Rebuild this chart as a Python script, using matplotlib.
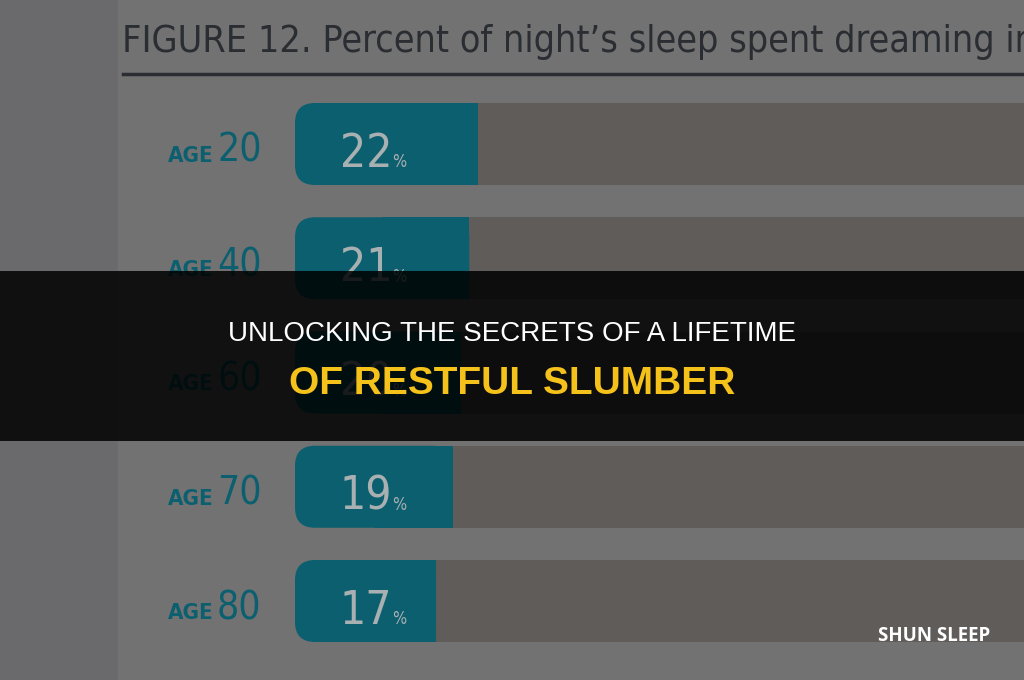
"""Percent of night's sleep spent dreaming in REM, by age (darkened card with banner)."""
import matplotlib
matplotlib.use("Agg")
import matplotlib.pyplot as plt
from matplotlib import font_manager
from matplotlib.patches import FancyBboxPatch, Rectangle

AGES = ["20", "40", "60", "70", "80"]
REM_PCT = [22, 21, 20, 19, 17]
FULL_PCT = 100
TITLE = "FIGURE 12. Percent of night\u2019s sleep spent dreaming in REM"
HEADLINE_1 = "UNLOCKING THE SECRETS OF A LIFETIME"
HEADLINE_2 = "OF RESTFUL SLUMBER"
BRAND = "SHUN SLEEP"

PAGE = "#727273"
STRIP = "#6a6a6c"
TEAL = "#0c5f6f"
TRACK = "#5f5c5a"
INK = "#2a2d31"
PCT_INK = "#a9b0b2"

# pick a narrow face if one is installed
_names = {f.name for f in font_manager.fontManager.ttflist}
_cond = [(f.name, f.stretch) for f in font_manager.fontManager.ttflist
         if f.stretch in ("condensed", "semi-condensed")]
if "Liberation Sans Narrow" in _names:
    NARROW = dict(family=["Liberation Sans Narrow", "DejaVu Sans"])
elif any(n == "DejaVu Sans" for n, _ in _cond):
    NARROW = dict(family=["DejaVu Sans"], stretch="condensed")
else:
    NARROW = dict(family=["DejaVu Sans"])

W, H = 1024, 680
fig = plt.figure(figsize=(W / 100, H / 100), dpi=100)
fig.patch.set_facecolor(PAGE)
fig.add_artist(Rectangle((0, 0), 118 / W, 1, transform=fig.transFigure,
                         facecolor=STRIP, edgecolor="none", zorder=0))

# bar axes: x=0 at 295 px, 8.3 px per percent; rows ~114 px apart from y=144
px_per_pct = 8.3
row_px, top_px = 114.25, 144
ax = fig.add_axes([295 / W, 0, 1 - 295 / W, 1])
ax.set_xlim(0, (W - 295) / px_per_pct)
ax.set_ylim((H - top_px) / row_px, -top_px / row_px)
ax.axis("off")
ax.patch.set_alpha(0)

ys = list(range(len(AGES)))
bh = 82 / row_px
r_x = 20 / px_per_pct
aspect = (20 / row_px) / r_x
ax.barh(ys, [FULL_PCT - v / 2 for v in REM_PCT], left=[v / 2 for v in REM_PCT],
        height=bh, color=TRACK, zorder=1)
for y, v in zip(ys, REM_PCT):
    ax.add_patch(FancyBboxPatch((0, y - bh / 2), v, bh,
                                boxstyle=f"round,pad=0,rounding_size={r_x}",
                                mutation_aspect=aspect, facecolor=TEAL,
                                edgecolor="none", zorder=2))
ax.barh(ys, [v / 2 for v in REM_PCT], left=[v / 2 for v in REM_PCT],
        height=bh, color=TEAL, zorder=2)

for y, v, age in zip(ys, REM_PCT, AGES):
    num = ax.text(5.4, y + 23 / row_px, str(v), ha="left", va="baseline",
                  fontsize=33, color=PCT_INK, zorder=3, **NARROW)
    ax.annotate("%", xy=(1, 0), xycoords=num, xytext=(0, 4),
                textcoords="offset points", ha="left", va="bottom", fontsize=12,
                color=PCT_INK, zorder=3, **NARROW)
    # row label sits left of the axes
    base = y + 18 / row_px
    ax.text(-127 / px_per_pct, base, "AGE", ha="left", va="baseline",
            fontsize=16, color=TEAL, fontweight="semibold", zorder=3,
            clip_on=False, **NARROW)
    ax.text(-78 / px_per_pct, base, age, ha="left", va="baseline", fontsize=28,
            color=TEAL, zorder=3, clip_on=False, **NARROW)

# title and rule
fig.text(122 / W, 1 - 42 / H, TITLE, ha="left", va="center", fontsize=27,
         color=INK, **NARROW)
fig.add_artist(plt.Line2D([123 / W, 1], [1 - 74 / H] * 2, transform=fig.transFigure,
                          color=INK, lw=2.5))

# dark banner with headline
fig.add_artist(Rectangle((0, 1 - 441 / H), 1, 170 / H, transform=fig.transFigure,
                         facecolor="black", alpha=0.85, edgecolor="none", zorder=5))
fig.text(0.5, 1 - 334 / H, HEADLINE_1, ha="center", va="center", fontsize=20,
         color="white", family=["Liberation Sans", "DejaVu Sans"], zorder=6)
fig.text(0.5, 1 - 384 / H, HEADLINE_2, ha="center", va="center", fontsize=28,
         color="#f5c21b", fontweight="bold",
         family=["Liberation Sans", "DejaVu Sans"], zorder=6)

fig.text(990 / W, 1 - 636 / H, BRAND, ha="right", va="center", fontsize=13.5,
         color="white", fontweight="bold", family=["Open Sans", "DejaVu Sans"], zorder=6)

fig.savefig("out.png", dpi=100, facecolor=fig.get_facecolor())
